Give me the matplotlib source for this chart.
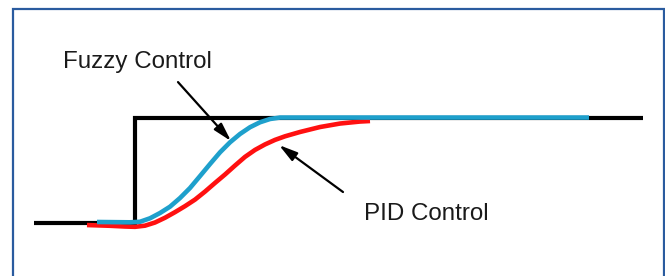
import matplotlib
matplotlib.use("Agg")
import matplotlib.pyplot as plt
from matplotlib.patches import Rectangle

# ---- data (time in arbitrary units, response normalised: 0 = start, 1 = setpoint)
setpoint_t = [34, 135, 135, 643]
setpoint_r = [0.0, 0.0, 1.0, 1.0]

fuzzy_t = [97, 130, 140, 150, 160, 170, 180, 190, 200, 210, 220, 230, 240, 250,
           260, 270, 280, 589]
fuzzy_r = [0.01, 0.007, 0.012, 0.045, 0.095, 0.155, 0.237, 0.332, 0.445, 0.559,
           0.670, 0.765, 0.844, 0.908, 0.955, 0.986, 1.0, 1.0]

pid_t = [87, 110, 125, 135, 145, 155, 165, 175, 185, 195, 205, 215, 225, 235,
         245, 255, 265, 275, 285, 300, 320, 340, 360, 370]
pid_r = [-0.019, -0.026, -0.033, -0.036, -0.025, 0.005, 0.050, 0.103, 0.160,
         0.222, 0.298, 0.380, 0.460, 0.545, 0.627, 0.693, 0.745, 0.788, 0.822,
         0.863, 0.910, 0.943, 0.962, 0.967]

labels = ["Fuzzy Control", "PID Control"]

# ---- figure
fig = plt.figure(figsize=(6.65, 2.76), dpi=100)
ax = fig.add_axes([0, 0, 1, 1])
ax.set_xlim(0, 665)
ax.set_ylim(-0.502, 2.114)
ax.axis("off")

ax.plot(setpoint_t, setpoint_r, color="black", lw=3.0, solid_joinstyle="miter",
        solid_capstyle="butt", zorder=2)
ax.plot(pid_t, pid_r, color="#ff1010", lw=3.3, solid_capstyle="butt",
        solid_joinstyle="round", zorder=3)
ax.plot(fuzzy_t, fuzzy_r, color="#1ea0cc", lw=3.3, solid_capstyle="butt",
        solid_joinstyle="round", zorder=4)

font = dict(family=["Liberation Sans", "DejaVu Sans"], fontsize=17.4, color="#1a1a1a")
ax.text(63, 1.469, labels[0], ha="left", va="baseline", **font)
ax.text(364, 0.028, labels[1], ha="left", va="baseline", **font)

arrow = dict(arrowstyle="-|>,head_length=1.1,head_width=0.3", color="black",
             lw=1.6, shrinkA=0, shrinkB=0)
ax.annotate("", xy=(231, 0.777), xytext=(178, 1.336), arrowprops=arrow, zorder=5)
ax.annotate("", xy=(279, 0.739), xytext=(343, 0.294), arrowprops=arrow, zorder=5)

# frame around the picture
fig.patches.append(Rectangle((13 / 665, -0.1), (664 - 13) / 665, (276 - 9) / 276 + 0.1,
                             transform=fig.transFigure, fill=False,
                             edgecolor="#2a5b9f", lw=1.6))

fig.savefig("out.png", dpi=100)
